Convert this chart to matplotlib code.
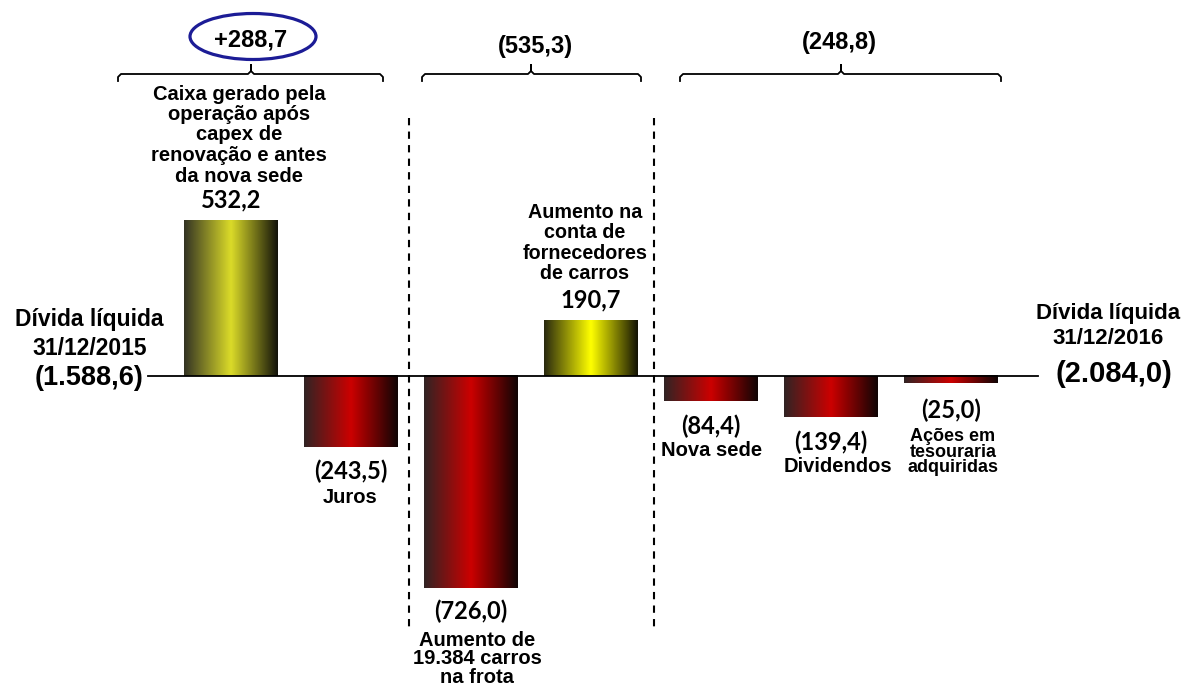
import numpy as np
import matplotlib
matplotlib.use("Agg")
import matplotlib.pyplot as plt
from matplotlib.colors import LinearSegmentedColormap
from matplotlib.patches import Ellipse

# ---------------- data ----------------
categories = [
    "Caixa gerado pela\noperação após\ncapex de\nrenovação e antes\nda nova sede",
    "Juros",
    "Aumento de\n19.384 carros\nna frota",
    "Aumento na\nconta de\nfornecedores\nde carros",
    "Nova sede",
    "Dividendos",
    "Ações em\ntesouraria\nadquiridas",
]
values = [532.2, -243.5, -726.0, 190.7, -84.4, -139.4, -25.0]
value_labels = ["532,2", "(243,5)", "(726,0)", "190,7", "(84,4)", "(139,4)", "(25,0)"]
group_totals = ["+288,7", "(535,3)", "(248,8)"]
start_label = "Dívida líquida\n31/12/2015"
start_value = "(1.588,6)"
end_label = "Dívida líquida\n31/12/2016"
end_value = "(2.084,0)"

# ---------------- figure / coordinate helpers ----------------
W, H = 1191, 686
fig = plt.figure(figsize=(W / 100, H / 100), dpi=100)
ax = fig.add_axes([0, 0, 1, 1])
X0, STEP = 231, 120      # pixel x of first bar centre, spacing
Y0, SCALE = 376, 0.2925  # pixel y of baseline, px per unit
XL = (-X0 / STEP, (W - X0) / STEP)
YL = ((Y0 - H) / SCALE, Y0 / SCALE)


def P(px, py):
    return ((px - X0) / STEP, (Y0 - py) / SCALE)


ARIAL = "Liberation Sans"
NUM = "Lato"

# ---------------- bars with gradient ----------------
red_cmap = LinearSegmentedColormap.from_list(
    "red", [(0.0, (0.19, 0.14, 0.14)), (0.5, (0.80, 0.0, 0.0)), (1.0, (0.06, 0.02, 0.02))])
yel1_cmap = LinearSegmentedColormap.from_list(
    "y1", [(0.0, (0.20, 0.20, 0.14)), (0.5, (0.86, 0.86, 0.16)), (1.0, (0.07, 0.07, 0.04))])
yel2_cmap = LinearSegmentedColormap.from_list(
    "y2", [(0.0, (0.16, 0.16, 0.06)), (0.5, (1.0, 1.0, 0.0)), (1.0, (0.07, 0.07, 0.02))])
bar_cmaps = [yel1_cmap, red_cmap, red_cmap, yel2_cmap, red_cmap, red_cmap, red_cmap]

xs = np.arange(len(values))
bars = ax.bar(xs, values, width=94 / STEP, color="none", edgecolor="none")
grad = np.linspace(0, 1, 256).reshape(1, -1)
for b, cm in zip(bars, bar_cmaps):
    x0 = b.get_x()
    x1 = x0 + b.get_width()
    y0 = b.get_y()
    y1 = y0 + b.get_height()
    ax.imshow(grad, extent=[x0, x1, min(y0, y1), max(y0, y1)], aspect="auto",
              cmap=cm, interpolation="bicubic", zorder=2)

# baseline
ax.plot([P(148, 0)[0], P(1038, 0)[0]], [0, 0], color="black", lw=1.3, zorder=3)

# dashed separators
for px in (409, 654):
    xa, ya = P(px, 118)
    _, yb = P(px, 632)
    ax.plot([xa, xa], [ya, yb], color="black", lw=1.5, linestyle=(0, (3.5, 3)), zorder=1)


# brackets
def bracket(xl, xr, xc, y=74, drop=81, top=65, r=3):
    pts = [(xl, drop), (xl, y + r), (xl + r, y), (xc - r, y), (xc, y - r), (xc, top),
           (xc, y - r), (xc + r, y), (xr - r, y), (xr, y + r), (xr, drop)]
    dx = [P(a, b)[0] for a, b in pts]
    dy = [P(a, b)[1] for a, b in pts]
    ax.plot(dx, dy, color="black", lw=1.3, solid_joinstyle="round", zorder=3)


bracket(118, 383, 251)
bracket(422, 641, 531)
bracket(680, 1001, 841)

# ellipse around the first group total
ec = P(253, 36.5)
ax.add_patch(Ellipse(ec, 126 / STEP, 46 / SCALE, facecolor="none",
                     edgecolor="#1c1c96", lw=2.3, zorder=4))

# group totals
ax.text(*P(251, 40), group_totals[0], ha="center", va="center", fontsize=17,
        fontweight="bold", family=ARIAL)
ax.text(*P(535, 46), group_totals[1], ha="center", va="center", fontsize=17,
        fontweight="bold", family=ARIAL)
ax.text(*P(839, 43), group_totals[2], ha="center", va="center", fontsize=17,
        fontweight="bold", family=ARIAL)

# category texts
cat_pos = [(239, 135, 14.5, 1.1), (350, 497, 14.5, 1.0), (477, 659, 14.5, 0.98),
           (585, 243, 14.2, 1.08), (712, 450, 14.5, 1.0), (838, 466, 14.5, 1.0),
           (953, 452, 13.0, 0.9)]
for txt, (px, py, fs, ls) in zip(categories, cat_pos):
    ax.text(*P(px, py), txt, ha="center", va="center", fontsize=fs, fontweight="bold",
            family=ARIAL, linespacing=ls, zorder=5)

# value labels
val_pos = [(231, 200), (351, 471), (471, 611), (591, 300), (711, 426), (831, 442), (951, 410)]
for txt, (px, py) in zip(value_labels, val_pos):
    ax.text(*P(px, py), txt, ha="center", va="center", fontsize=17, fontweight="bold",
            family=NUM, zorder=5)

# start / end labels
ax.text(*P(89.5, 334), start_label, ha="center", va="center", fontsize=16.5,
        fontweight="bold", family=ARIAL, linespacing=1.3)
ax.text(*P(89, 378), start_value, ha="center", va="center", fontsize=19.5,
        fontweight="bold", family=ARIAL)
ax.text(*P(1108, 326), end_label, ha="center", va="center", fontsize=16,
        fontweight="bold", family=ARIAL, linespacing=1.3)
ax.text(*P(1114, 374), end_value, ha="center", va="center", fontsize=21,
        fontweight="bold", family=ARIAL)

ax.set_xlim(*XL)
ax.set_ylim(*YL)
ax.axis("off")
fig.savefig("out.png", dpi=100, facecolor="white")
